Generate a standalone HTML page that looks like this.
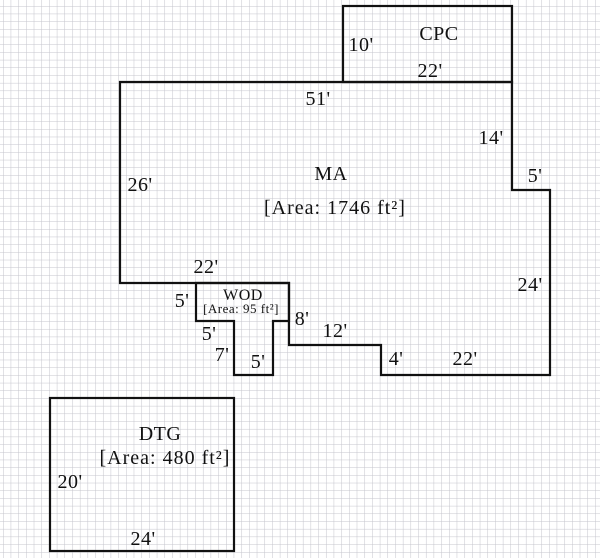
<!DOCTYPE html>
<html><head><style>
html,body{margin:0;padding:0;background:#fff;}
svg{display:block;}
text{font-family:"Liberation Serif",serif;fill:#111;}
</style></head><body>
<svg width="600" height="558" viewBox="0 0 600 558" xmlns="http://www.w3.org/2000/svg">
<defs>
<pattern id="g" x="3" y="6" width="7.69" height="7.69" patternUnits="userSpaceOnUse">
<path d="M0 0H7.69M0 0V7.69" stroke="#c4c4cc" stroke-width="1" fill="none"/>
</pattern>
</defs>
<rect width="600" height="558" fill="#fff"/>
<rect width="600" height="558" fill="url(#g)"/>
<g fill="none" stroke="#111" stroke-width="2.2">
<rect x="343" y="6" width="169" height="76"/>
<polygon points="120,82 512,82 512,190 550,190 550,375 381,375 381,345 289,345 289,283 120,283"/>
<polygon points="196,283 289,283 289,321 273,321 273,375 234,375 234,321 196,321"/>
<rect x="50" y="398" width="184" height="153"/>
</g>
<g font-size="20" text-anchor="middle" letter-spacing="0.5">
<text x="361" y="51">10'</text>
<text x="439" y="40">CPC</text>
<text x="430" y="77">22'</text>
<text x="318" y="105">51'</text>
<text x="491" y="144">14'</text>
<text x="331" y="180">MA</text>
<text x="335" y="214" letter-spacing="1">[Area: 1746 ft²]</text>
<text x="140" y="191">26'</text>
<text x="535" y="182">5'</text>
<text x="530" y="291">24'</text>
<text x="206" y="273">22'</text>
<text x="182" y="307">5'</text>
<text x="302" y="325">8'</text>
<text x="335" y="337">12'</text>
<text x="209" y="340">5'</text>
<text x="222" y="361">7'</text>
<text x="258" y="368">5'</text>
<text x="396" y="365">4'</text>
<text x="465" y="365">22'</text>
<text x="160" y="440">DTG</text>
<text x="165" y="464" letter-spacing="1">[Area: 480 ft²]</text>
<text x="70" y="488">20'</text>
<text x="143" y="545">24'</text>
<text x="243" y="300" font-size="16" letter-spacing="0.5">WOD</text>
<text x="241" y="313" font-size="13" letter-spacing="0.5">[Area: 95 ft²]</text>
</g>
</svg>
</body></html>
